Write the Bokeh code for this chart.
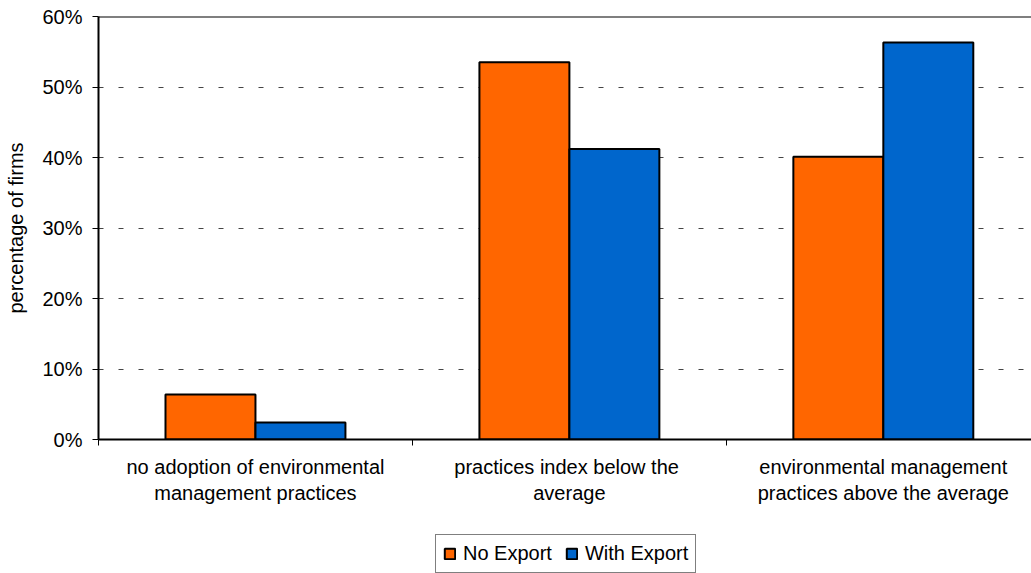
from bokeh.plotting import figure
from bokeh.layouts import column
from bokeh.models import (Range1d, FixedTicker, LinearAxis, PrintfTickFormatter,
                          Legend, LegendItem, Span, ColumnDataSource, Grid)
from bokeh.transform import dodge
from bokeh.embed import file_html
from bokeh.resources import INLINE

# Share of firms by environmental management practice, by export status
categories = [
    "no adoption of environmental\nmanagement practices",
    "practices  index below the\naverage",
    "environmental management\npractices above the average",
]
series = ["No Export", "With Export"]
no_export = [6.4, 53.5, 40.1]
with_export = [2.4, 41.2, 56.3]
y_ticks = [0, 10, 20, 30, 40, 50, 60]

FONT = "Liberation Sans"
ORANGE = "#FF6600"
BLUE = "#0066CC"
BAR_W = 0.2866

centers = [i + 0.5 for i in range(len(categories))]
bounds = list(range(len(categories) + 1))
src = ColumnDataSource(dict(x=centers, no_export=no_export, with_export=with_export))


def add_bars(fig):
    a = fig.vbar(x=dodge("x", -BAR_W / 2, range=fig.x_range), top="no_export", width=BAR_W,
                 bottom=0, source=src, fill_color=ORANGE, line_color="black", line_width=2)
    b = fig.vbar(x=dodge("x", BAR_W / 2, range=fig.x_range), top="with_export", width=BAR_W,
                 bottom=0, source=src, fill_color=BLUE, line_color="black", line_width=2)
    return a, b


p = figure(width=1031, height=534, output_backend="svg", toolbar_location=None,
           x_range=Range1d(0, 2.972), y_range=Range1d(0, 60),
           min_border_left=98, min_border_top=16, min_border_right=0,
           min_border_bottom=95, x_axis_type=None, y_axis_type=None)
p.outline_line_color = None
p.background_fill_color = "white"
p.border_fill_color = "white"

add_bars(p)

# value axis
yax = LinearAxis(ticker=FixedTicker(ticks=y_ticks),
                 formatter=PrintfTickFormatter(format="%d%%"))
yax.axis_label = "percentage of firms"
yax.axis_label_text_font = FONT
yax.axis_label_text_font_size = "20px"
yax.axis_label_text_font_style = "normal"
yax.axis_label_text_color = "black"
yax.axis_label_standoff = 12
yax.major_label_text_font = FONT
yax.major_label_text_font_size = "20px"
yax.major_label_text_color = "black"
yax.major_label_standoff = 10
yax.major_tick_out = 6
yax.major_tick_in = 0
yax.major_tick_line_width = 1
yax.minor_tick_line_color = None
yax.axis_line_width = 2
yax.axis_line_color = "black"
p.add_layout(yax, "left")

# category axis: names centred under each group, small ticks at group boundaries
cax = LinearAxis(ticker=FixedTicker(ticks=centers, minor_ticks=bounds),
                 major_label_overrides={c: lab for c, lab in zip(centers, categories)})
cax.axis_line_width = 2
cax.axis_line_color = "black"
cax.major_tick_line_color = None
cax.major_tick_out = 0
cax.major_tick_in = 0
cax.minor_tick_line_color = "black"
cax.minor_tick_line_width = 1
cax.minor_tick_out = 6
cax.minor_tick_in = 0
cax.major_label_text_font = FONT
cax.major_label_text_font_size = "20px"
cax.major_label_text_color = "black"
cax.major_label_standoff = 10
p.add_layout(cax, "below")

# dashed horizontal gridlines
g = Grid(dimension=1, ticker=FixedTicker(ticks=[t for t in y_ticks if 0 < t < 60]),
         grid_line_color="#444444", grid_line_width=1, grid_line_dash="5 15")
p.add_layout(g)

# top border of the plot area
p.add_layout(Span(location=60, dimension="width", line_color="black", line_width=2))

# legend strip underneath the chart; its swatches come from hidden copies of the bars
lg = figure(width=1031, height=39, output_backend="svg", toolbar_location=None,
            x_range=Range1d(0, 2.972), y_range=Range1d(0, 60),
            min_border=0, x_axis_type=None, y_axis_type=None)
lg.outline_line_color = None
lg.xgrid.visible = False
lg.ygrid.visible = False
lg.border_fill_color = "white"
h1, h2 = add_bars(lg)
h1.visible = False
h2.visible = False

legend = Legend(items=[LegendItem(label=series[0], renderers=[h1]),
                       LegendItem(label=series[1], renderers=[h2])],
                orientation="horizontal", location=(337, 0),
                padding=7, spacing=13, label_standoff=7,
                glyph_width=13, glyph_height=13,
                label_text_font=FONT, label_text_font_size="20px",
                label_text_color="black",
                border_line_color="black", border_line_width=1,
                background_fill_alpha=1, inactive_fill_alpha=0, margin=0)
lg.add_layout(legend, "center")

layout = column(p, lg, spacing=0)
open("out.html", "w").write(file_html(layout, INLINE))
